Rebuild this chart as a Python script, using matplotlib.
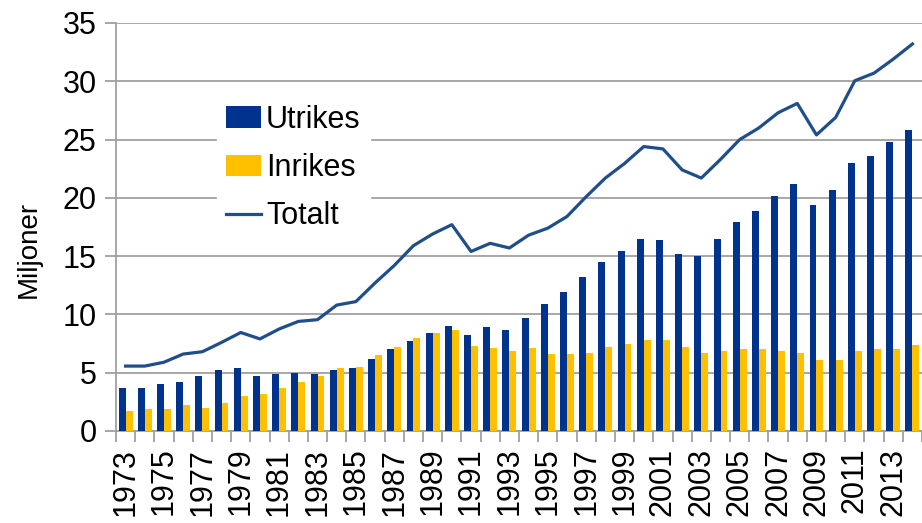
import matplotlib
matplotlib.use("Agg")
import matplotlib.pyplot as plt
import numpy as np

years = list(range(1973, 2015))
utrikes = [3.7, 3.7, 4.05, 4.2, 4.7, 5.2, 5.4, 4.7, 4.9, 5.0, 4.9, 5.2, 5.4, 6.2,
           7.0, 7.7, 8.4, 9.05, 8.2, 8.9, 8.7, 9.7, 10.9, 11.9, 13.2, 14.5, 15.4,
           16.5, 16.4, 15.2, 15.0, 16.5, 17.9, 18.9, 20.2, 21.2, 19.4, 20.7, 23.0,
           23.6, 24.8, 25.8]
inrikes = [1.7, 1.9, 1.9, 2.2, 2.0, 2.4, 3.0, 3.2, 3.7, 4.2, 4.7, 5.4, 5.5, 6.5,
           7.2, 8.0, 8.4, 8.7, 7.3, 7.1, 6.9, 7.1, 6.6, 6.6, 6.7, 7.2, 7.5, 7.8,
           7.8, 7.2, 6.7, 6.9, 7.0, 7.0, 6.9, 6.7, 6.1, 6.1, 6.9, 7.0, 7.0, 7.4]
totalt = [5.57, 5.57, 5.9, 6.6, 6.8, 7.6, 8.45, 7.9, 8.75, 9.4, 9.55, 10.8, 11.1,
          12.7, 14.2, 15.9, 16.9, 17.7, 15.4, 16.1, 15.7, 16.8, 17.4, 18.4, 20.1,
          21.7, 22.95, 24.4, 24.2, 22.4, 21.7, 23.3, 25.0, 26.0, 27.3, 28.1, 25.4,
          26.9, 30.05, 30.7, 31.9, 33.2]

BLUE = "#00338D"
YELLOW = "#FFC000"
LINE = "#1F4E8A"
GRID = "#A0A0A0"

plt.rcParams['font.family'] = ['Liberation Sans', 'DejaVu Sans']

fig = plt.figure(figsize=(9.22, 5.23), dpi=100)
ax = fig.add_axes([116/922, 1-431/523, 1-116/922, (431-23)/523])

x = np.arange(len(years))
w = 0.36
b1 = ax.bar(x - w/2, utrikes, width=w, color=BLUE, label="Utrikes", zorder=3)
b2 = ax.bar(x + w/2, inrikes, width=w, color=YELLOW, label="Inrikes", zorder=3)
l1, = ax.plot(x, totalt, color=LINE, lw=2.3, label="Totalt", zorder=4)

ax.set_xlim(-0.5, len(years) - 0.5)
ax.set_ylim(0, 35)
ax.set_yticks(range(0, 36, 5))
ax.yaxis.grid(True, color=GRID, lw=1.3, zorder=0)
ax.set_axisbelow(True)

for s in ["top", "right"]:
    ax.spines[s].set_visible(False)
for s in ["left", "bottom"]:
    ax.spines[s].set_color(GRID)
    ax.spines[s].set_linewidth(1.3)

# boundary ticks on x, labels every second year at centers
ax.set_xticks(np.arange(-0.5, len(years) - 0.5 + 0.01, 1))
ax.set_xticklabels([])
ax.tick_params(axis="x", which="major", length=8, color=GRID, width=1.3)
ax.set_xticks(x[::2], minor=True)
ax.set_xticklabels([str(y) for y in years[::2]], minor=True, rotation=90,
                   fontsize=22)
ax.tick_params(axis="x", which="minor", length=0, pad=12)
ax.tick_params(axis="y", length=8, color=GRID, width=1.3, labelsize=22, pad=6)

ax.set_ylabel("Miljoner", fontsize=20)
ax.yaxis.set_label_coords(-0.092, 0.444)

leg = ax.legend([b1, b2, l1], ["Utrikes", "Inrikes", "Totalt"],
                loc="center left", bbox_to_anchor=(217/922, 1-168/523),
                bbox_transform=fig.transFigure, frameon=True, fontsize=22,
                handlelength=1.15, handletextpad=0.15, labelspacing=0.6,
                borderpad=0.3, borderaxespad=0, fancybox=False)
leg.get_frame().set_edgecolor("white")
leg.get_frame().set_facecolor("white")
leg.get_frame().set_alpha(1)

fig.savefig("out.png", dpi=100)
